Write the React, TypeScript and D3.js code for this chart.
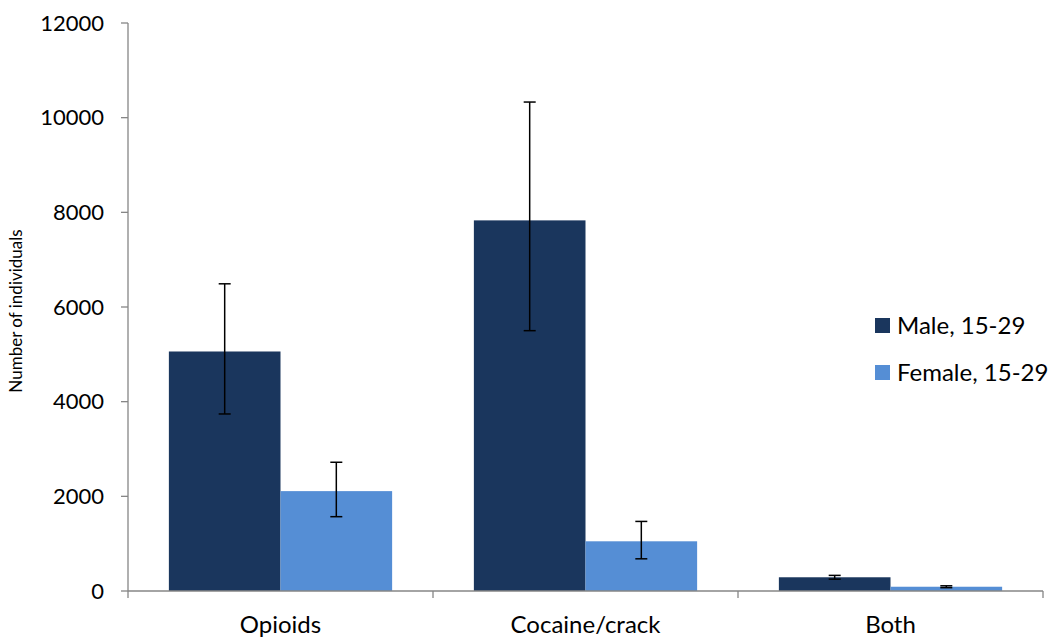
import React from "react";
import * as d3 from "d3";

const categories = ["Opioids", "Cocaine/crack", "Both"];
const seriesNames = ["Male, 15-29", "Female, 15-29"];
const maleValues = [5060, 7830, 290];
const maleLow = [3740, 5500, 250];
const maleHigh = [6490, 10330, 330];
const femaleValues = [2110, 1050, 90];
const femaleLow = [1570, 680, 70];
const femaleHigh = [2720, 1470, 110];
const yTicks = [0, 2000, 4000, 6000, 8000, 10000, 12000];
const colors = ["#1a365d", "#558ed5"];

const W = 1050, H = 638;
const FONT = "Lato, 'Open Sans', sans-serif";

export default function App() {
  const x0 = d3.scaleBand().domain(categories).range([128, 1043]).paddingInner(0).paddingOuter(0);
  const y = d3.scaleLinear().domain([0, 12000]).range([591, 23]);
  const bw = x0.bandwidth();
  const barW = bw * 0.366;
  const series = [
    { name: seriesNames[0], v: maleValues, lo: maleLow, hi: maleHigh, c: colors[0] },
    { name: seriesNames[1], v: femaleValues, lo: femaleLow, hi: femaleHigh, c: colors[1] },
  ];
  const axisColor = "#868686";
  return (
    <svg width={W} height={H} style={{ display: "block", position: "absolute", left: 0, top: 0 }} fontFamily={FONT}>
      <rect width={W} height={H} fill="#fff" />
      {categories.map((cat, i) => {
        const cx = x0(cat)! + bw / 2;
        return series.map((s, j) => {
          const bx = cx - barW + j * barW;
          const mx = bx + barW / 2;
          return (
            <g key={cat + j}>
              <rect x={bx} y={y(s.v[i])} width={barW} height={y(0) - y(s.v[i])} fill={s.c} />
              <line x1={mx} x2={mx} y1={y(s.lo[i])} y2={y(s.hi[i])} stroke="#000" strokeWidth={1.5} />
              <line x1={mx - 6} x2={mx + 6} y1={y(s.lo[i])} y2={y(s.lo[i])} stroke="#000" strokeWidth={1.5} />
              <line x1={mx - 6} x2={mx + 6} y1={y(s.hi[i])} y2={y(s.hi[i])} stroke="#000" strokeWidth={1.5} />
            </g>
          );
        });
      })}
      {/* y axis */}
      <line x1={128} x2={128} y1={y(12000)} y2={y(0)} stroke={axisColor} strokeWidth={1.3} />
      {yTicks.map((t) => (
        <g key={t}>
          <line x1={121} x2={128} y1={y(t)} y2={y(t)} stroke={axisColor} strokeWidth={1.3} />
          <text x={104} y={y(t)} dy="0.35em" textAnchor="end" fontSize={22} fill="#000">{t}</text>
        </g>
      ))}
      {/* x axis */}
      <line x1={128} x2={1043} y1={y(0)} y2={y(0)} stroke={axisColor} strokeWidth={1.3} />
      {[0, 1, 2, 3].map((k) => (
        <line key={k} x1={128 + k * bw} x2={128 + k * bw} y1={y(0)} y2={y(0) + 7} stroke={axisColor} strokeWidth={1.3} />
      ))}
      {categories.map((cat) => (
        <text key={cat} x={x0(cat)! + bw / 2} y={633} textAnchor="middle" fontSize={24} fill="#000">{cat}</text>
      ))}
      <text transform="translate(22,311) rotate(-90)" textAnchor="middle" fontSize={17} fill="#000">Number of individuals</text>
      {/* legend */}
      {series.map((s, j) => (
        <g key={s.name} transform={`translate(875, ${318 + j * 47})`}>
          <rect width={15} height={15} fill={s.c} />
          <text x={22} y={7.5} dy="0.35em" fontSize={24} fill="#000">{s.name}</text>
        </g>
      ))}
    </svg>
  );
}
